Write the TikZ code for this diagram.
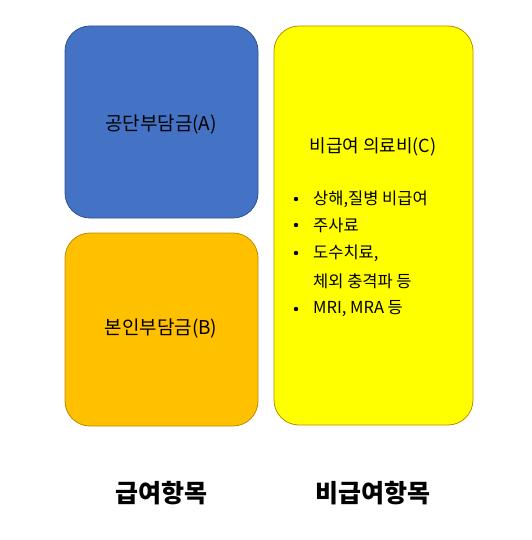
\documentclass[tikz,border=0pt]{standalone}
\usepackage{fontspec}
\setmainfont{Noto Sans CJK KR}
\usetikzlibrary{positioning}
\definecolor{boxblue}{HTML}{4472C4}
\definecolor{boxblueline}{HTML}{2F528F}
\definecolor{boxorange}{HTML}{FFC000}
\definecolor{boxyellow}{HTML}{FFFF00}
\definecolor{boxgold}{HTML}{BC8C00}
\tikzset{
    costbox/.style={draw, line width=.8pt, rounded corners=25pt, inner sep=0pt},
    boxtext/.style={font=\fontsize{19}{22}\selectfont},
    itemtext/.style={anchor=west, inner sep=0pt, font=\fontsize{16.5}{20}\selectfont},
    grouplabel/.style={font=\fontsize{25}{30}\selectfont\bfseries}
}

\begin{document}
\begin{tikzpicture}[x=1pt, y=-1pt]
    \useasboundingbox(0, 0)rectangle(531, 540);
    \node[costbox, fill=boxblue, draw=boxblueline, minimum width=193pt, minimum height=192pt](gongdan)at(161.5, 122){};
    \node[boxtext](gongdantext)at(161, 125){공단부담금(A)};
    \node[costbox, fill=boxorange, draw=boxgold, minimum width=193pt, minimum height=193pt](bonin)at(161.5, 329.5){};
    \node[boxtext](bonintext)at(161, 329){본인부담금(B)};
    \node[costbox, fill=boxyellow, draw=boxgold, minimum width=199pt, minimum height=399pt](bigeup)at(373.5, 225.5){};
    \node[boxtext, font=\fontsize{18}{22}\selectfont](title)at(373, 147){비급여 의료비(C)};
    \foreach \i/\y/\t in {1/199/{상해,질병 비급여}, 2/225/{주사료}, 3/253/{도수치료,}, 4/309/{MRI, MRA 등}}{
        \node[itemtext](item\i)at(313, \y){\t};
        \fill(296, \y)circle(2.2pt)coordinate(dot\i);
    }
    \node[itemtext](item3b)at(313, 281){체외 충격파 등};
    \node[grouplabel](geupyeo)at(161, 493){급여항목};
    \node[grouplabel](bigeupyeo)at(373, 493){비급여항목};
\end{tikzpicture}
\end{document}
